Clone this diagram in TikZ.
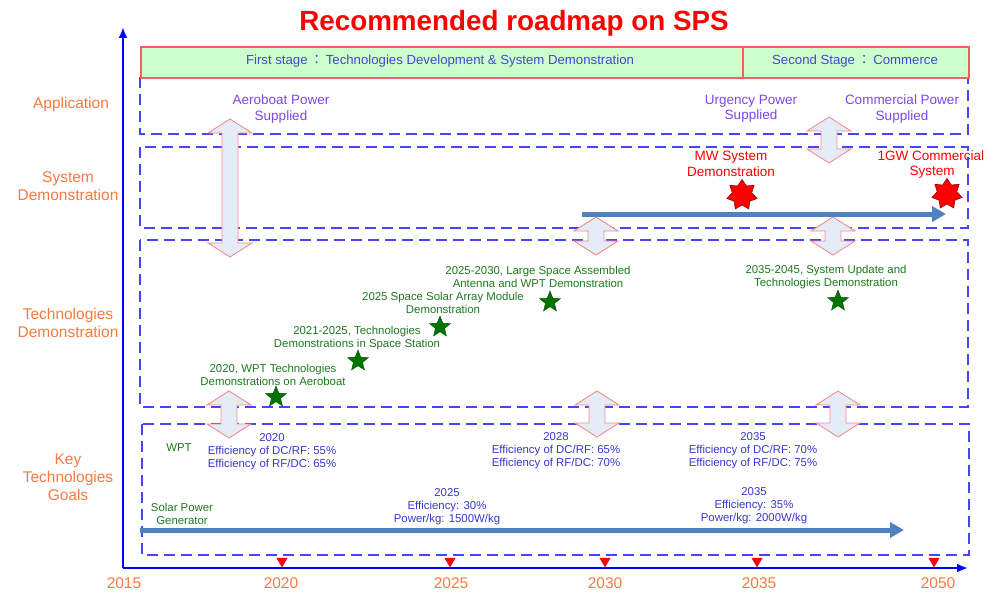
\documentclass[tikz,border=0pt]{standalone}
\usepackage{fontspec}
\setmainfont{Liberation Sans}
\newfontfamily\cjkf{Noto Sans CJK TC}
\usetikzlibrary{arrows.meta,shapes.geometric}
\definecolor{orng}{RGB}{248,122,62}
\definecolor{purp}{RGB}{125,70,235}
\definecolor{dgreen}{RGB}{30,120,30}
\definecolor{sgreen}{RGB}{0,115,0}
\definecolor{infob}{RGB}{55,55,205}
\definecolor{dashb}{RGB}{70,70,240}
\definecolor{steel}{RGB}{79,129,189}
\definecolor{barfill}{RGB}{204,255,204}
\definecolor{barline}{RGB}{245,95,95}
\definecolor{arrfill}{RGB}{228,236,247}
\definecolor{arrline}{RGB}{245,140,140}
\definecolor{stagetxt}{RGB}{70,70,210}
\newcommand\fsml{\fontsize{11.4}{13}\selectfont}
\newcommand\fmid{\fontsize{13.5}{15.5}\selectfont}
\newcommand\flab{\fontsize{15.5}{18}\selectfont}
\newcommand\wcolon{\hspace{2.5pt}{\cjkf ：}\hspace{2.5pt}}
\newcommand\dblarr[3]{%
  \draw[dblarrow] (#1-8,#2+14) -- (#1-22,#2+14) -- (#1,#2) -- (#1+22,#2+14) -- (#1+8,#2+14)
    -- (#1+8,#3-14) -- (#1+22,#3-14) -- (#1,#3) -- (#1-22,#3-14) -- (#1-8,#3-14) -- cycle;}
\tikzset{
  dashbox/.style={draw=dashb, line width=1.8pt, dash pattern=on 11pt off 6pt},
  dblarrow/.style={fill=arrfill, draw=arrline, line width=0.9pt, line join=miter},
  axisline/.style={draw=blue, line width=2.6pt, -{Latex[length=11pt,width=9pt]}},
  bigarrow/.style={draw=steel, line width=5pt, -{Triangle[length=14pt,width=15pt]}},
  rowlabel/.style={text=orng, font=\flab, align=center},
  yearlabel/.style={text=orng, font=\fontsize{15.5}{18}\selectfont},
  apptxt/.style={text=purp, font=\fmid, align=center},
  demotxt/.style={text=dgreen, font=\fsml, align=center},
  infotxt/.style={text=infob, font=\fsml, align=center},
  redtxt/.style={text=red, font=\fmid, align=center},
  gstar/.style={star, star points=5, star point ratio=2.3, minimum size=22pt, inner sep=0pt, fill=sgreen, draw=sgreen!70!black, line width=0.4pt},
  rstar/.style={star, star points=7, star point ratio=1.55, minimum size=31pt, inner sep=0pt, fill=red, draw=red!60!black, line width=0.6pt},
  tick/.style={regular polygon, regular polygon sides=3, shape border rotate=180, fill=red, inner sep=0pt, minimum size=13pt},
  stagebox/.style={fill=barfill, draw=barline, line width=1.8pt},
  stagetext/.style={text=stagetxt, font=\fontsize{13.2}{15}\selectfont}
}
\begin{document}
\begin{tikzpicture}[x=1pt,y=-1pt]
\useasboundingbox (0,0) rectangle (984,591);
% title
\node[text=red, font=\bfseries\fontsize{27.8}{30}\selectfont] (title) at (514,23) {Recommended roadmap on SPS};
% dashed boxes
\draw[dashbox] (140,77) -- (140,134) -- (968,134) -- (968,77);
\draw[dashbox] (140,147) rectangle (968,228);
\draw[dashbox] (140,240) rectangle (968,407);
\draw[dashbox] (142,424) rectangle (969,555);
% stage bar
\node[stagebox, minimum width=602pt, minimum height=31pt, anchor=north west, inner sep=0pt] (st1) at (140,46) {};
\node[stagebox, minimum width=226pt, minimum height=31pt, anchor=north west, inner sep=0pt] (st2) at (742,46) {};
\node[stagetext] (st1t) at (440,61) {First stage\wcolon Technologies Development \& System Demonstration};
\node[stagetext] (st2t) at (855,61) {Second Stage\wcolon Commerce};
% axes
\coordinate (O) at (123,568);
\coordinate (ytop) at (123,27);
\coordinate (xend) at (968,568);
\draw[axisline] (O) -- (ytop);
\draw[axisline] (O) -- (xend);
% row labels
\node[rowlabel] (lapp) at (71,104) {Application};
\node[rowlabel] (lsys) at (68,186) {System\\Demonstration};
\node[rowlabel] (ltech) at (68,323) {Technologies\\Demonstration};
\node[rowlabel] (lkey) at (68,477) {Key\\Technologies\\Goals};
% years and ticks
\node[yearlabel] (y2015) at (124,583) {2015};
\node[yearlabel] (y2020) at (281,583) {2020};
\node[yearlabel] (y2025) at (451,583) {2025};
\node[yearlabel] (y2030) at (605,583) {2030};
\node[yearlabel] (y2035) at (759,583) {2035};
\node[yearlabel] (y2050) at (938,583) {2050};
\node[tick] (t1) at (282,561) {};
\node[tick] (t2) at (450,561) {};
\node[tick] (t3) at (605,561) {};
\node[tick] (t4) at (757,561) {};
\node[tick] (t5) at (934,561) {};
% application texts
\node[apptxt] (aero) at (281,109) {Aeroboat Power\\Supplied};
\node[apptxt] (urg) at (751,109) {Urgency Power\\Supplied};
\node[apptxt] (comm) at (902,109) {Commercial Power\\Supplied};
% double arrows
\dblarr{230}{119}{257}
\dblarr{829}{117}{163}
\dblarr{596}{217}{255}
\dblarr{833}{217}{255}
\dblarr{229}{391}{438}
\dblarr{597}{391}{437}
\dblarr{838}{391}{437}
% system demonstration
\coordinate (sysA) at (582,214);
\coordinate (sysB) at (946,214);
\draw[bigarrow] (sysA) -- (sysB);
\node[redtxt] (mwt) at (731,164) {MW System\\Demonstration};
\node[rstar] (mws) at (742,195) {};
\node[redtxt, anchor=west] (gwt1) at (874,156) {1GW Commercial};
\node[redtxt] (gwt2) at (932,172) {System};
\node[rstar] (gws) at (947,194) {};
% technologies demonstration
\node[demotxt] (d1) at (273,375) {2020, WPT Technologies\\Demonstrations on Aeroboat};
\node[gstar] (s1) at (276,397) {};
\node[demotxt] (d2) at (357,338) {2021-2025, Technologies\\Demonstrations in Space Station};
\node[gstar] (s2) at (358,361) {};
\node[demotxt] (d3) at (443,303) {2025 Space Solar Array Module\\Demonstration};
\node[gstar] (s3) at (440,327) {};
\node[demotxt] (d4) at (538,277) {2025-2030, Large Space Assembled\\Antenna and WPT Demonstration};
\node[gstar] (s4) at (550,302) {};
\node[demotxt] (d5) at (826,277) {2035-2045, System Update and\\Technologies Demonstration};
\node[gstar] (s5) at (838,301) {};
% key technologies goals
\node[demotxt] (wpt) at (179,448) {WPT};
\node[infotxt] (k1) at (272,452) {2020\\Efficiency of DC/RF: 55\%\\Efficiency of RF/DC: 65\%};
\node[infotxt] (k2) at (556,451) {2028\\Efficiency of DC/RF: 65\%\\Efficiency of RF/DC: 70\%};
\node[infotxt] (k3) at (753,451) {2035\\Efficiency of DC/RF: 70\%\\Efficiency of RF/DC: 75\%};
\node[demotxt] (spg) at (182,514) {Solar Power\\Generator};
\node[infotxt] (p1) at (447,507) {2025\\Efficiency: 30\%\\Power/kg: 1500W/kg};
\node[infotxt] (p2) at (754,506) {2035\\Efficiency: 35\%\\Power/kg: 2000W/kg};
\coordinate (kA) at (140,530);
\coordinate (kB) at (904,530);
\draw[bigarrow] (kA) -- (kB);
\end{tikzpicture}
\end{document}
